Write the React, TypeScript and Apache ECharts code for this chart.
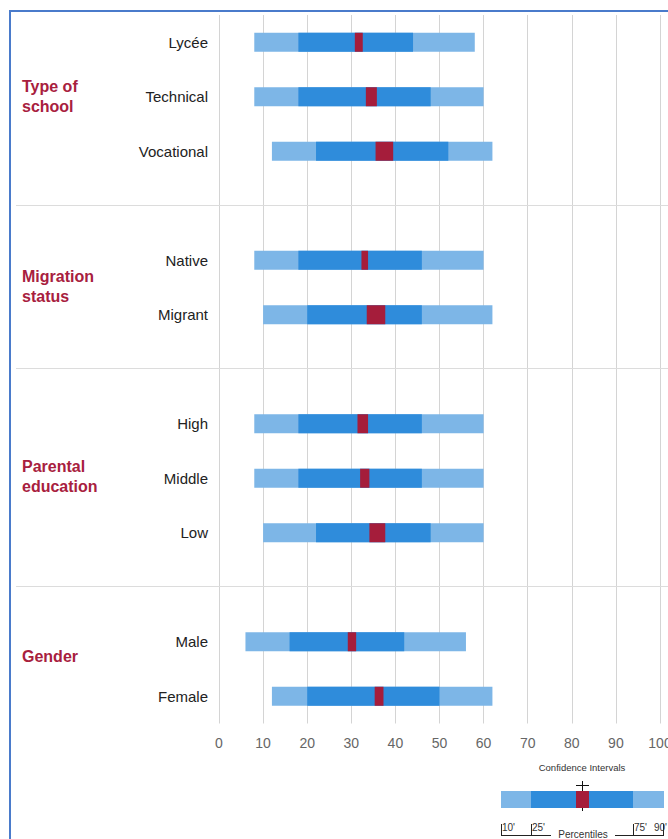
import React, { useEffect, useRef } from "react";
import * as echarts from "echarts";

const rowLabels = ["Lycée", "Technical", "Vocational", "Native", "Migrant", "High", "Middle", "Low", "Male", "Female"];
const p10 = [8, 8, 12, 8, 10, 8, 8, 10, 6, 12];
const p25 = [18, 18, 22, 18, 20, 18, 18, 22, 16, 20];
const ciLow = [30.8, 33.3, 35.5, 32.3, 33.5, 31.4, 32.0, 34.1, 29.2, 35.3];
const ciHigh = [32.6, 35.8, 39.5, 33.8, 37.7, 33.8, 34.1, 37.7, 31.1, 37.3];
const p75 = [44, 48, 52, 46, 46, 46, 46, 48, 42, 50];
const p90 = [58, 60, 62, 60, 62, 60, 60, 60, 56, 62];
const groupNames = ["Type of\nschool", "Migration\nstatus", "Parental\neducation", "Gender"];
const groupSizes = [3, 2, 3, 2];
const legendPercentiles = ["10'", "25'", "75'", "90'"];

const LIGHT = "#7db6e7";
const DARK = "#2f8cdb";
const RED = "#a51d3b";
const FONT = "Liberation Sans, Arial, sans-serif";

export default function App() {
  const ref = useRef<HTMLDivElement>(null);
  useEffect(() => {
    if (!ref.current) return;
    const chart = echarts.init(ref.current, null, { renderer: "svg" });

    const categories: string[] = [];
    const rowSlot: number[] = [];
    const sepSlots: number[] = [];
    const groupSlots: number[][] = [];
    let r = 0;
    groupSizes.forEach((n, gi) => {
      if (gi > 0) {
        sepSlots.push(categories.length);
        categories.push(" ".repeat(gi));
      }
      const slots: number[] = [];
      for (let k = 0; k < n; k++) {
        rowSlot.push(categories.length);
        slots.push(categories.length);
        categories.push(rowLabels[r]);
        r++;
      }
      groupSlots.push(slots);
    });

    const data = rowLabels.map((_, i) => [rowSlot[i], p10[i], p25[i], ciLow[i], ciHigh[i], p75[i], p90[i]]);

    chart.setOption({
      animation: false,
      textStyle: { fontFamily: FONT },
      grid: { left: 219, right: 8, top: 15, bottom: 115.5, containLabel: false, outerBoundsMode: "none" },
      xAxis: {
        type: "value",
        min: 0,
        max: 100,
        interval: 10,
        axisLine: { show: false },
        axisTick: { show: false },
        axisLabel: { color: "#666", fontSize: 14, margin: 12, fontFamily: FONT, hideOverlap: false },
        splitLine: { show: true, lineStyle: { color: "#d4d4d4", width: 1 } },
      },
      yAxis: {
        type: "category",
        inverse: true,
        data: categories,
        axisLine: { show: false },
        axisTick: { show: false },
        splitLine: { show: false },
        axisLabel: { color: "#222", fontSize: 15, margin: 11, fontFamily: FONT },
      },
      series: [
        {
          type: "custom",
          encode: { y: 0, x: [1, 2, 3, 4, 5, 6] },
          data,
          renderItem: (params: any, api: any) => {
            const y = api.value(0);
            const h = 19;
            const rect = (a: number, b: number, color: string) => {
              const s = api.coord([a, y]);
              const e = api.coord([b, y]);
              return {
                type: "rect",
                shape: { x: s[0], y: s[1] - h / 2, width: e[0] - s[0], height: h },
                style: { fill: color },
              };
            };
            return {
              type: "group",
              children: [
                rect(api.value(1), api.value(6), LIGHT),
                rect(api.value(2), api.value(5), DARK),
                rect(api.value(3), api.value(4), RED),
              ],
            };
          },
        },
      ],
    });

    const py = (slot: number) => chart.convertToPixel({ yAxisIndex: 0 }, slot) as number;
    const graphics: any[] = [];
    graphics.push({
      type: "rect",
      shape: { x: 10, y: 11, width: 700, height: 900 },
      style: { fill: "none", stroke: "#4a7bcb", lineWidth: 2 },
      silent: true,
    });
    sepSlots.forEach((s) => {
      const y = Math.round(py(s)) - 0.5;
      graphics.push({
        type: "line",
        shape: { x1: 16, y1: y, x2: 668, y2: y },
        style: { stroke: "#dcdcdc", lineWidth: 1 },
      });
    });
    const groupOffsets = [0, -1, -2, -13];
    groupSlots.forEach((slots, gi) => {
      const yc = (py(slots[0]) + py(slots[slots.length - 1])) / 2 + groupOffsets[gi];
      graphics.push({
        type: "text",
        x: 22,
        y: yc,
        style: {
          text: groupNames[gi],
          fill: "#a8203e",
          font: `bold 16px ${FONT}`,
          lineHeight: 20,
          align: "left",
          verticalAlign: "middle",
        },
      });
    });

    // legend
    graphics.push({
      type: "text",
      x: 582,
      y: 767,
      style: { text: "Confidence Intervals", fill: "#333", font: `9.5px ${FONT}`, align: "center", verticalAlign: "middle" },
    });
    graphics.push({ type: "rect", shape: { x: 501, y: 791, width: 163, height: 17 }, style: { fill: LIGHT } });
    graphics.push({ type: "rect", shape: { x: 531, y: 791, width: 102, height: 17 }, style: { fill: DARK } });
    graphics.push({ type: "line", shape: { x1: 582.5, y1: 781, x2: 582.5, y2: 811 }, style: { stroke: "#111", lineWidth: 1 } });
    graphics.push({ type: "line", shape: { x1: 576, y1: 785.5, x2: 589, y2: 785.5 }, style: { stroke: "#111", lineWidth: 1 } });
    graphics.push({ type: "rect", shape: { x: 576, y: 791, width: 13, height: 17 }, style: { fill: RED } });
    const tickX = [501, 531, 633, 663];
    tickX.forEach((x, i) => {
      graphics.push({ type: "line", shape: { x1: x + 0.5, y1: 824, x2: x + 0.5, y2: 836 }, style: { stroke: "#222", lineWidth: 1 } });
      graphics.push({
        type: "text",
        x: i === 3 ? 667 : x + 1,
        y: 827,
        style: {
          text: legendPercentiles[i],
          fill: "#333",
          font: `10px ${FONT}`,
          align: i === 3 ? "right" : "left",
          verticalAlign: "middle",
        },
      });
    });
    graphics.push({ type: "line", shape: { x1: 501, y1: 835.5, x2: 551, y2: 835.5 }, style: { stroke: "#222", lineWidth: 1 } });
    graphics.push({ type: "line", shape: { x1: 615, y1: 835.5, x2: 663.5, y2: 835.5 }, style: { stroke: "#222", lineWidth: 1 } });
    graphics.push({
      type: "text",
      x: 583,
      y: 834,
      style: { text: "Percentiles", fill: "#333", font: `10px ${FONT}`, align: "center", verticalAlign: "middle" },
    });

    chart.setOption({ graphic: graphics });

    return () => chart.dispose();
  }, []);

  return (
    <div
      ref={ref}
      style={{ position: "fixed", left: 0, top: 0, width: 668, height: 839, background: "#fff" }}
    />
  );
}
